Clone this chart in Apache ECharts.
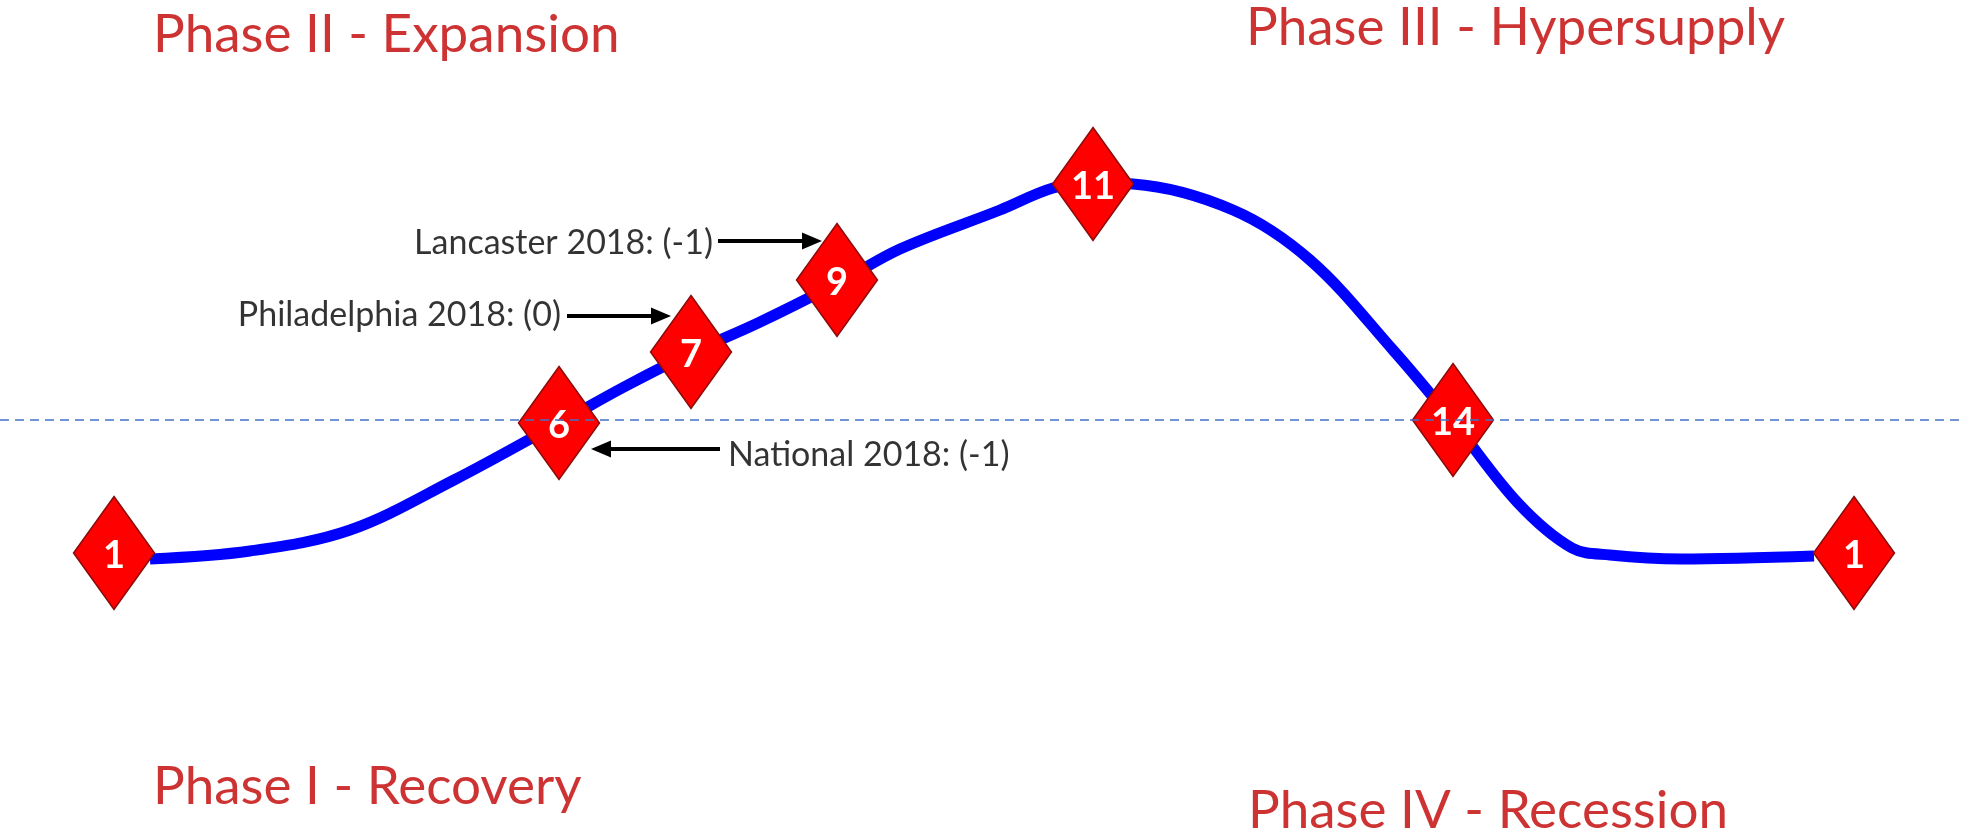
<!DOCTYPE html>
<html>
<head>
<meta charset="utf-8">
<title>Market cycle</title>
<script src="https://cdn.jsdelivr.net/npm/echarts@6/dist/echarts.min.js"></script>
<style>
  html, body { margin: 0; padding: 0; background: #fff; }
  #chart { width: 1962px; height: 832px; }
</style>
</head>
<body>
<div id="chart"></div>
<script>
// cycle curve (x along the cycle, y downwards)
const curveX = [150, 250, 350, 454, 559, 624, 691, 758, 838, 900, 1000, 1053, 1093, 1133, 1233, 1310, 1393, 1452, 1518, 1572, 1610, 1681, 1814]
const curveY = [559, 551, 530, 480, 423, 387, 353, 323, 283, 249, 210, 188, 183, 184, 210, 260, 350, 420, 503, 548, 555, 559, 556]

// numbered markers on the curve
const markerNames = ['1', '6', '7', '9', '11', '14', '1']
const markerX = [114, 559, 691, 837, 1093, 1453, 1854]
const markerY = [553, 423, 352, 280, 184, 420, 553]

// equilibrium line
const baseline = 420

// phase titles
const phaseNames = ['Phase II - Expansion', 'Phase III - Hypersupply', 'Phase I - Recovery', 'Phase IV - Recession']
const phaseX = [153, 1246, 153, 1248]
const phaseY = [35, 28, 787, 811]

// annotations and their arrows
const noteNames = ['Lancaster 2018: (-1)', 'Philadelphia 2018: (0)', 'National 2018: (-1)']
const noteX = [713, 561, 728]
const noteY = [243, 315, 455]
const noteSide = ['left', 'left', 'right']
const arrowFrom = [[718, 241], [567, 316], [720, 449]]
const arrowTo = [[812, 241], [661, 316], [601, 449]]

const chart = echarts.init(document.getElementById('chart'))
const font = 'Lato, "Open Sans", sans-serif'

const option = {
  animation: false,
  grid: { left: 0, right: 0, top: 0, bottom: 0 },
  xAxis: { type: 'value', min: 0, max: 1962, show: false },
  yAxis: { type: 'value', min: 0, max: 832, inverse: true, show: false },
  series: [
    {
      name: 'cycle',
      type: 'line',
      smooth: 0.35,
      symbol: 'none',
      z: 2,
      lineStyle: { color: '#0000ff', width: 11 },
      data: curveX.map((x, i) => [x, curveY[i]]),
      markLine: {
        silent: true,
        symbol: 'none',
        label: { show: false },
        lineStyle: { color: '#4472c4', width: 1.5, type: [9, 6] },
        data: [{ yAxis: baseline }]
      }
    },
    {
      name: 'markers',
      type: 'scatter',
      z: 4,
      symbol: 'diamond',
      symbolSize: [81, 113],
      itemStyle: { color: '#ff0000', borderColor: '#8b0a0a', borderWidth: 1.5, opacity: 1 },
      label: {
        show: true,
        position: 'inside',
        formatter: p => p.name,
        color: '#fff',
        fontFamily: font,
        fontWeight: 'bold',
        fontSize: 38,
        offset: [0, 3]
      },
      data: markerNames.map((n, i) => ({ name: n, value: [markerX[i], markerY[i]] }))
    },
    {
      name: 'phases',
      type: 'scatter',
      symbolSize: 0,
      silent: true,
      label: {
        show: true,
        position: 'right',
        distance: 0,
        formatter: p => p.name,
        color: '#c00000',
        fontFamily: font,
        fontSize: 53
      },
      data: phaseNames.map((n, i) => ({ name: n, value: [phaseX[i], phaseY[i]] }))
    },
    {
      name: 'notes',
      type: 'scatter',
      symbolSize: 0,
      silent: true,
      z: 5,
      label: {
        show: true,
        distance: 0,
        formatter: p => p.name,
        color: '#000',
        fontFamily: font,
        fontSize: 34
      },
      data: noteNames.map((n, i) => ({
        name: n,
        value: [noteX[i], noteY[i]],
        label: { position: noteSide[i] }
      })),
      markLine: {
        silent: true,
        symbol: ['none', 'triangle'],
        symbolSize: [17, 20],
        label: { show: false },
        lineStyle: { color: '#000', width: 4, type: 'solid' },
        data: arrowFrom.map((a, i) => [{ coord: a }, { coord: arrowTo[i] }])
      }
    }
  ]
}

chart.setOption(option)
</script>
</body>
</html>
